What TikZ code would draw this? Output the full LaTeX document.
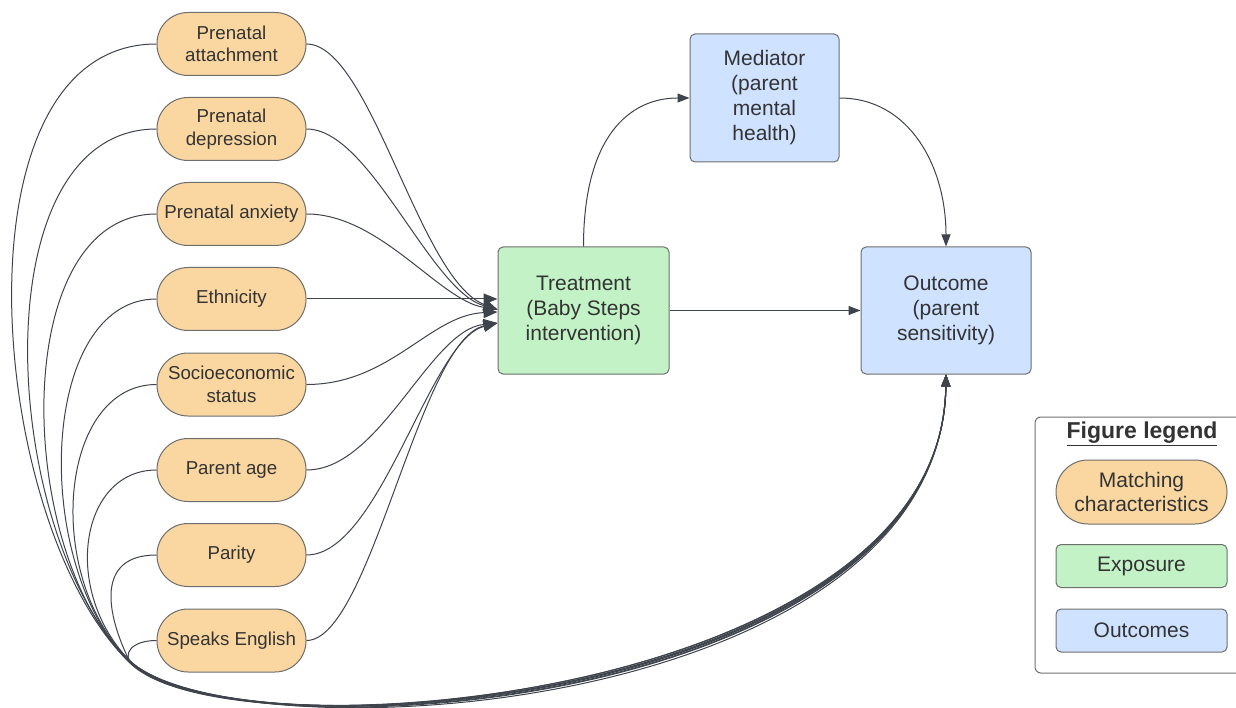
\documentclass[tikz,border=0pt]{standalone}
\usepackage{fontspec}
\setmainfont{Liberation Sans}
\usetikzlibrary{arrows.meta}
\definecolor{pillfill}{HTML}{FAD7A0}
\definecolor{greenfill}{HTML}{C3F2C6}
\definecolor{bluefill}{HTML}{CFE2FF}
\definecolor{edgec}{HTML}{3E434C}
\definecolor{txt}{HTML}{333333}
\definecolor{bord}{HTML}{6E6E6E}
\begin{document}
\begin{tikzpicture}[x=1pt,y=-1pt,
  pill/.style={draw=bord, line width=1pt, fill=pillfill, rounded corners=31pt, minimum width=149pt, minimum height=63pt, inner sep=0pt, align=center, text=txt, font=\fontsize{18.7}{22.5}\selectfont},
  box/.style={draw=bord, line width=1pt, rounded corners=5pt, inner sep=0pt, align=center, text=txt, font=\fontsize{21}{25}\selectfont},
  conn/.style={draw=edgec, line width=1pt},
  arr/.style={conn, -{Triangle[length=14pt,width=11pt]}},
  arrs/.style={conn, -{Triangle[length=12pt,width=9pt]}},
]
\useasboundingbox (0,0) rectangle (1236,708);

% matching characteristics
\node[pill] (pa) at (231.5,44) {Prenatal\\attachment};
\node[pill] (pd) at (231.5,129) {Prenatal\\depression};
\node[pill] (px) at (231.5,214) {Prenatal anxiety};
\node[pill] (eth) at (231.5,299) {Ethnicity};
\node[pill] (ses) at (231.5,384.5) {Socioeconomic\\status};
\node[pill] (age) at (231.5,470) {Parent age};
\node[pill] (par) at (231.5,555) {Parity};
\node[pill] (eng) at (231.5,640.5) {Speaks English};

% main boxes
\node[box, fill=greenfill, minimum width=171pt, minimum height=127pt] (treat) at (583.5,310.5) {Treatment\\(Baby Steps\\intervention)};
\node[box, fill=bluefill, minimum width=149pt, minimum height=128pt] (med) at (764.5,98) {Mediator\\(parent\\mental\\health)};
\node[box, fill=bluefill, minimum width=170pt, minimum height=127pt] (out) at (946,310.5) {Outcome\\(parent\\sensitivity)};

% legend
\draw[draw=bord, line width=1pt, rounded corners=6pt] (1035,417) rectangle (1262,673);
\node[text=txt, font=\fontsize{23}{26}\selectfont\bfseries] (lt) at (1142,434) {\underline{Figure legend}};
\node[pill, font=\fontsize{21}{24.5}\selectfont, minimum width=171pt, minimum height=64pt, rounded corners=32pt] (lm) at (1141.5,492) {Matching\\characteristics};
\node[box, fill=greenfill, minimum width=171pt, minimum height=43pt] (lx) at (1141.5,566) {Exposure};
\node[box, fill=bluefill, minimum width=171pt, minimum height=43pt] (lo) at (1141.5,630.5) {Outcomes};

% junctions of the lower bundle
\coordinate (j1) at (127,660);
\coordinate (j2) at (129,661);
\coordinate (j3) at (126,658);
\coordinate (j4) at (130,663);
\coordinate (j5) at (128,659);
\coordinate (j6) at (131,662);
\coordinate (j7) at (129,660);
\coordinate (j8) at (132,664);

% right side: matching characteristics -> treatment
\draw[arr] (pa.east) .. controls +(64,0) and +(-78,-29) .. ([yshift=1pt]treat.west);
\draw[arr] (pd.east) .. controls +(64,0) and +(-68,-19) .. ([yshift=1pt]treat.west);
\draw[arr] (px.east) .. controls +(74,0) and +(-58,-9) .. ([yshift=1pt]treat.west);
\draw[arr] (eth.east) -- (eth.east -| treat.west);
\draw[arr] (ses.east) .. controls +(84,0) and +(-68,3) .. ([yshift=-1.5pt]treat.west);
\draw[arr] (age.east) .. controls +(74,0) and +(-68,7) .. ([yshift=-12.5pt]treat.west);
\draw[arr] (par.east) .. controls +(74,0) and +(-68,17) .. ([yshift=-12.5pt]treat.west);
\draw[arr] (eng.east) .. controls +(64,0) and +(-78,17) .. ([yshift=-12.5pt]treat.west);

% left side: matching characteristics -> outcome
\draw[arrs] (pa.west) .. controls +(-207,0) and +(-140,-140) .. (j1) .. controls +(100,100) and +(-5,340) .. (out.south);
\draw[arrs] (pd.west) .. controls +(-177,0) and +(-130,-130) .. (j2) .. controls +(97,97) and +(-4,335) .. (out.south);
\draw[arrs] (px.west) .. controls +(-147,0) and +(-112,-112) .. (j3) .. controls +(103,103) and +(-6,345) .. (out.south);
\draw[arrs] (eth.west) .. controls +(-117,0) and +(-100,-100) .. (j4) .. controls +(95,95) and +(-3,330) .. (out.south);
\draw[arrs] (ses.west) .. controls +(-97,0) and +(-85,-85) .. (j5) .. controls +(101,101) and +(-5,338) .. (out.south);
\draw[arrs] (age.west) .. controls +(-77,0) and +(-70,-70) .. (j6) .. controls +(97,97) and +(-4,332) .. (out.south);
\draw[arrs] (par.west) .. controls +(-62,0) and +(-22,-45) .. (j7) .. controls +(99,99) and +(-5,336) .. (out.south);
\draw[arrs] (eng.west) .. controls +(-25,0) and +(-10,-10) .. (j8) .. controls +(95,95) and +(-3,328) .. (out.south);

% main paths
\draw[arrs] (treat.north) .. controls +(0,-110) and +(-60,0) .. (med.west);
\draw[arrs] (med.east) .. controls +(70,0) and +(0,-80) .. (out.north);
\draw[arrs] (treat.east) -- (out.west);
\end{tikzpicture}
\end{document}
